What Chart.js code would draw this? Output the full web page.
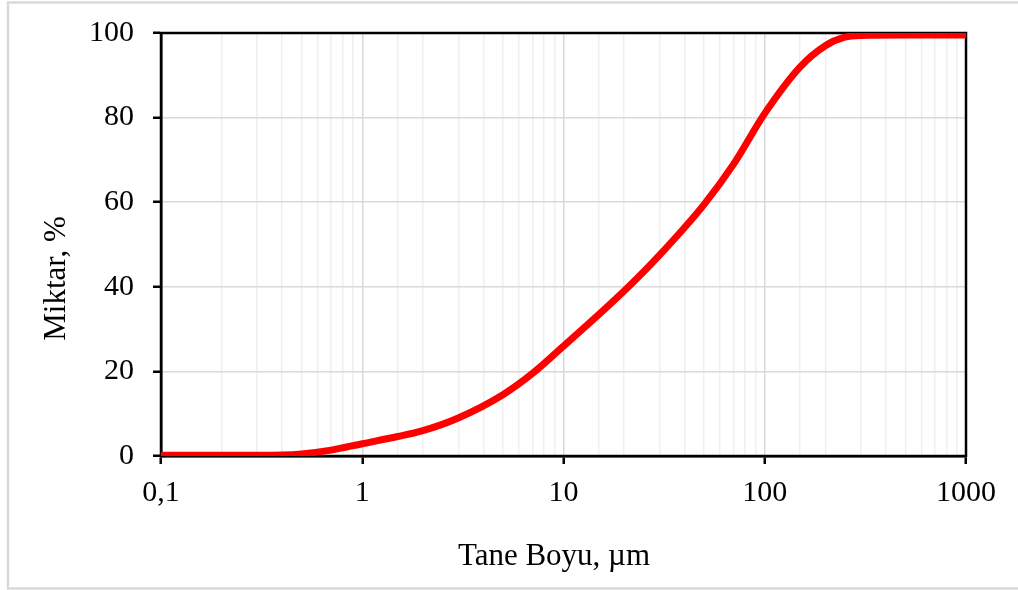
<!DOCTYPE html>
<html>
<head>
<meta charset="utf-8">
<script src="https://cdn.jsdelivr.net/npm/chart.js@4/dist/chart.umd.min.js"></script>
<style>
  html, body { margin: 0; padding: 0; background: #fff; }
  canvas { display: block; }
</style>
</head>
<body>
<canvas id="c" width="1018" height="590"></canvas>
<script>
// Particle size (µm) and cumulative amount (%)
const sizes    = [0.1, 0.2, 0.3, 0.4, 0.5, 0.7, 1, 1.5, 2, 3, 5, 7, 10, 15, 20, 30, 50, 70, 100, 150, 200, 250, 300, 500, 1000];
const percents = [0.2, 0.2, 0.2, 0.25, 0.5, 1.4, 2.9, 4.6, 6.0, 9.0, 14.5, 19.5, 26, 33.5, 39, 47.5, 59.5, 69, 81, 92, 97, 99, 99.4, 99.5, 99.5];
const xTickValues = [0.1, 1, 10, 100, 1000];
const xTickLabels = ['0,1', '1', '10', '100', '1000'];
const yTickValues = [0, 20, 40, 60, 80, 100];
const xTitle = 'Tane Boyu, µm';
const yTitle = 'Miktar, %';

const isMajor = v => {
  const l = Math.log10(v);
  return Math.abs(l - Math.round(l)) < 1e-6;
};

const frame = {
  id: 'frame',
  beforeDraw(chart) {
    const ctx = chart.ctx;
    ctx.save();
    ctx.fillStyle = '#fff';
    ctx.fillRect(0, 0, chart.width, chart.height);
    ctx.strokeStyle = '#d9d9d9';
    ctx.lineWidth = 2.5;
    ctx.strokeRect(8, 2.5, 1030, 586);
    ctx.restore();
  },
  beforeDatasetsDraw(chart) {
    const a = chart.chartArea, ctx = chart.ctx;
    ctx.save();
    ctx.strokeStyle = '#000';
    ctx.lineWidth = 2.5;
    ctx.strokeRect(a.left, a.top, a.right - a.left, a.bottom - a.top);
    ctx.restore();
  },
  afterDraw(chart) {
    const ctx = chart.ctx;
    ctx.save();
    ctx.fillStyle = '#000';
    ctx.font = '31px "Liberation Serif"';
    ctx.textAlign = 'center';
    ctx.textBaseline = 'alphabetic';
    ctx.fillText(xTitle, 554, 565);
    ctx.translate(65, 278.5);
    ctx.rotate(-Math.PI / 2);
    ctx.fillText(yTitle, 0, 0);
    ctx.restore();
  }
};

new Chart(document.getElementById('c'), {
  type: 'line',
  data: {
    datasets: [{
      data: sizes.map((s, i) => ({ x: s, y: percents[i] })),
      borderColor: '#ff0000',
      borderWidth: 7,
      pointRadius: 0,
      cubicInterpolationMode: 'monotone',
      fill: false
    }]
  },
  options: {
    responsive: false,
    animation: false,
    devicePixelRatio: 1,
    layout: { padding: { top: 33, right: 52, left: 0, bottom: 0 } },
    plugins: { legend: { display: false }, tooltip: { enabled: false } },
    scales: {
      x: {
        type: 'logarithmic',
        min: 0.1,
        max: 1000,
        afterFit(s) { s.height = 134; s.paddingLeft = 0; s.paddingRight = 0; },
        border: { display: true, color: '#000', width: 2.5 },
        grid: {
          color: c => isMajor(c.tick.value) ? '#d9d9d9' : '#efefef',
          lineWidth: 1.5,
          tickColor: c => isMajor(c.tick.value) ? '#000' : 'rgba(0,0,0,0)',
          tickWidth: 2.5,
          tickLength: 8
        },
        ticks: {
          autoSkip: false,
          maxRotation: 0,
          padding: 11,
          color: '#000',
          font: { family: '"Liberation Serif"', size: 30 },
          callback: v => {
            const i = xTickValues.findIndex(t => Math.abs(Math.log10(t) - Math.log10(v)) < 1e-6);
            return i >= 0 ? xTickLabels[i] : '';
          }
        },
        title: { display: false }
      },
      y: {
        min: 0,
        max: 100,
        afterFit(s) { s.width = 161; s.paddingTop = 0; s.paddingBottom = 0; },
        afterBuildTicks(s) { s.ticks = yTickValues.map(v => ({ value: v })); },
        border: { display: true, color: '#000', width: 2.5 },
        grid: {
          color: '#d9d9d9',
          lineWidth: 1.5,
          tickColor: '#000',
          tickWidth: 2.5,
          tickLength: 8
        },
        ticks: {
          padding: 19,
          color: '#000',
          font: { family: '"Liberation Serif"', size: 30 }
        },
        title: { display: false }
      }
    }
  },
  plugins: [frame]
});
</script>
</body>
</html>
